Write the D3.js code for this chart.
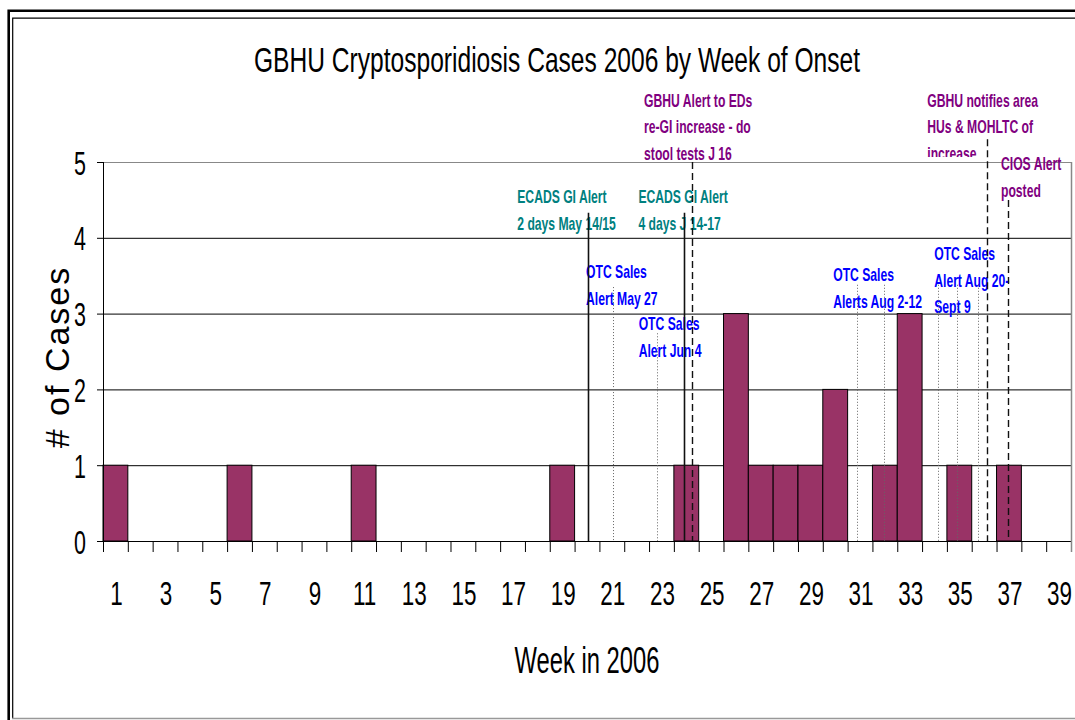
<!DOCTYPE html>
<html>
<head>
<meta charset="utf-8">
<script src="https://cdn.jsdelivr.net/npm/d3@7"></script>
<style>
    body { margin: 0; background: #fff; }
    svg { display: block; font-family: "Liberation Sans", Arial, sans-serif; }
</style>
</head>
<body>
<div id="chart"></div>
<script>
// cases per week of onset, weeks 1..39
const weeks = d3.range(1, 40);
const cases = [
    1, 0, 0, 0, 0,
    1, 0, 0, 0, 0,
    1, 0, 0, 0, 0,
    0, 0, 0, 1, 0,
    0, 0, 0, 1, 0,
    3, 1, 1, 1, 2,
    0, 1, 3, 0, 1,
    0, 1, 0, 0
];
const yTicks = [0, 1, 2, 3, 4, 5];
const xLabels = d3.range(1, 40, 2);

// vertical alert markers: week position, how high the line starts (in cases), style
const markerWeeks = [20.04, 23.91, 24.22, 21.06, 22.83, 30.87, 31.98, 34.15, 34.92, 35.77, 36.13, 36.95];
const markerTops  = [4.33, 4.33, 5.0, 3.35, 2.74, 3.38, 3.38, 3.38, 3.38, 3.38, 5.3, 4.5];
const markerKinds = ["solid", "solid", "dashed", "dotted", "dotted", "dotted", "dotted", "dotted", "dotted", "dotted", "dashed", "dashed"];

// annotation notes: left week, first baseline (in cases), colour kind
const noteTexts = [
    ["GBHU Alert to EDs", "re-GI increase - do", "stool tests J 16"],
    ["ECADS GI Alert", "2 days May 14/15"],
    ["ECADS GI Alert", "4 days J 14-17"],
    ["OTC Sales", "Alert May 27"],
    ["OTC Sales", "Alert Jun 4"],
    ["OTC Sales", "Alerts Aug 2-12"],
    ["OTC Sales", "Alert Aug 20-", "Sept 9"],
    ["GBHU notifies area", "HUs & MOHLTC of", "increase"],
    ["CIOS Alert", "posted"]
];
const noteWeeks  = [22.3, 17.19, 22.07, 19.96, 22.08, 29.92, 33.99, 33.71, 36.68];
const noteLevels = [5.73, 4.46, 4.46, 3.47, 2.78, 3.43, 3.71, 5.73, 4.89];
const noteKinds  = ["gbhu", "ecads", "ecads", "otc", "otc", "otc", "otc", "gbhu", "gbhu"];

const noteColors = { gbhu: "#800080", ecads: "#008080", otc: "#0000ff" };

const width = 1075, height = 720;
const margin = { left: 103, right: 1071, top: 162, bottom: 541 };

const svg = d3.select("#chart").append("svg")
    .attr("width", width)
    .attr("height", height);

// frame
svg.append("path")
    .attr("d", `M8.7,${height}V10.7H${width}`)
    .attr("fill", "none").attr("stroke", "#000").attr("stroke-width", 2.6);
svg.append("path")
    .attr("d", `M12.7,718V18.2H${width}`)
    .attr("fill", "none").attr("stroke", "#000").attr("stroke-width", 1.2);
svg.append("line")
    .attr("x1", 12).attr("x2", width).attr("y1", 718.5).attr("y2", 718.5)
    .attr("stroke", "#999").attr("stroke-width", 1.5);

const x = d3.scaleBand()
    .domain(weeks)
    .range([margin.left, margin.right])
    .padding(0);

const weekX = d3.scaleLinear()
    .domain([0.5, 39.5])
    .range([margin.left, margin.right]);

const y = d3.scaleLinear()
    .domain([0, 5])
    .range([margin.bottom, margin.top]);

// title
svg.append("text")
    .attr("transform", "translate(557,72) scale(0.683,1)")
    .attr("text-anchor", "middle")
    .attr("font-size", 36)
    .text("GBHU Cryptosporidiosis Cases 2006 by Week of Onset");

// gridlines
svg.selectAll(".grid")
    .data(yTicks.filter(d => d > 0))
    .enter()
    .append("line")
    .attr("class", "grid")
    .attr("x1", margin.left).attr("x2", margin.right)
    .attr("y1", d => y(d) + 0.5).attr("y2", d => y(d) + 0.5)
    .attr("stroke", d => d === 5 ? "#888" : "#000")
    .attr("stroke-width", 1);

// bars
svg.selectAll(".bar")
    .data(weeks.map((w, i) => ({ week: w, value: cases[i] })).filter(d => d.value > 0))
    .enter()
    .append("rect")
    .attr("class", "bar")
    .attr("x", d => x(d.week))
    .attr("y", d => y(d.value))
    .attr("width", x.bandwidth())
    .attr("height", d => y(0) - y(d.value))
    .attr("fill", "#993366")
    .attr("stroke", "#000")
    .attr("stroke-width", 1);

// notes
svg.append("clipPath").attr("id", "clip-top")
    .append("rect").attr("x", 0).attr("y", 0).attr("width", width).attr("height", 157);

noteTexts.forEach((lines, i) => {
    const g = svg.append("g")
        .attr("fill", noteColors[noteKinds[i]])
        .attr("font-weight", "bold")
        .attr("font-size", 19);
    if (i === 7) g.attr("clip-path", "url(#clip-top)");
    lines.forEach((line, j) => {
        g.append("text")
            .attr("transform", `translate(${weekX(noteWeeks[i])},${y(noteLevels[i]) + j * 26.8}) scale(0.64,1)`)
            .text(line);
    });
});

// alert markers
markerWeeks.forEach((w, i) => {
    const kind = markerKinds[i];
    const px = Math.round(weekX(w)) + 0.5;
    svg.append("line")
        .attr("x1", px).attr("x2", px)
        .attr("y1", y(markerTops[i])).attr("y2", y(0))
        .attr("stroke", kind === "dotted" ? "#666" : "#111")
        .attr("stroke-width", kind === "solid" ? 1.6 : (kind === "dashed" ? 1.4 : 1))
        .attr("stroke-dasharray", kind === "dashed" ? "7,4" : (kind === "dotted" ? "1,2" : null));
});

// x axis: band boundary ticks
const xTickAxis = svg.append("g")
    .attr("transform", `translate(0,${margin.bottom})`)
    .call(d3.axisBottom(weekX)
        .tickValues(d3.range(0.5, 40, 1))
        .tickSize(11)
        .tickSizeOuter(0)
        .tickFormat(""));
xTickAxis.selectAll("line").attr("stroke", "#000");
xTickAxis.select(".domain").attr("stroke", "#000");

// x axis labels
const xLabelAxis = svg.append("g")
    .attr("transform", `translate(0,${margin.bottom})`)
    .call(d3.axisBottom(x).tickValues(xLabels).tickSize(0));
xLabelAxis.select(".domain").remove();
xLabelAxis.selectAll("text")
    .attr("y", null).attr("dy", null)
    .attr("transform", "translate(1,64) scale(0.66,1)")
    .attr("font-size", 34)
    .attr("font-family", "Liberation Sans, Arial, sans-serif")
    .attr("fill", "#000");

// y axis
const yAxis = svg.append("g")
    .attr("transform", `translate(${margin.left},0)`)
    .call(d3.axisLeft(y).tickValues(yTicks).tickFormat(d3.format("d")).tickSize(6).tickSizeOuter(0));
yAxis.select(".domain").remove();
yAxis.selectAll("line").attr("stroke", "#000");
yAxis.selectAll("text")
    .attr("x", null).attr("dy", null)
    .attr("transform", "translate(-17,12) scale(0.65,1)")
    .attr("font-size", 33)
    .attr("font-family", "Liberation Sans, Arial, sans-serif")
    .attr("fill", "#000");

// left axis line and right border
svg.append("line")
    .attr("x1", margin.left + 0.5).attr("x2", margin.left + 0.5)
    .attr("y1", margin.top).attr("y2", margin.bottom + 11)
    .attr("stroke", "#000");
svg.append("line")
    .attr("x1", margin.right + 0.5).attr("x2", margin.right + 0.5)
    .attr("y1", margin.top).attr("y2", margin.bottom + 11)
    .attr("stroke", "#888").attr("stroke-width", 1.5);

// axis titles
svg.append("text")
    .attr("transform", "translate(587,673) scale(0.66,1)")
    .attr("text-anchor", "middle")
    .attr("font-size", 36)
    .text("Week in 2006");

svg.append("text")
    .attr("transform", "translate(69,357) rotate(-90)")
    .attr("text-anchor", "middle")
    .attr("font-size", 34)
    .attr("letter-spacing", 2)
    .text("# of Cases");
</script>
</body>
</html>
